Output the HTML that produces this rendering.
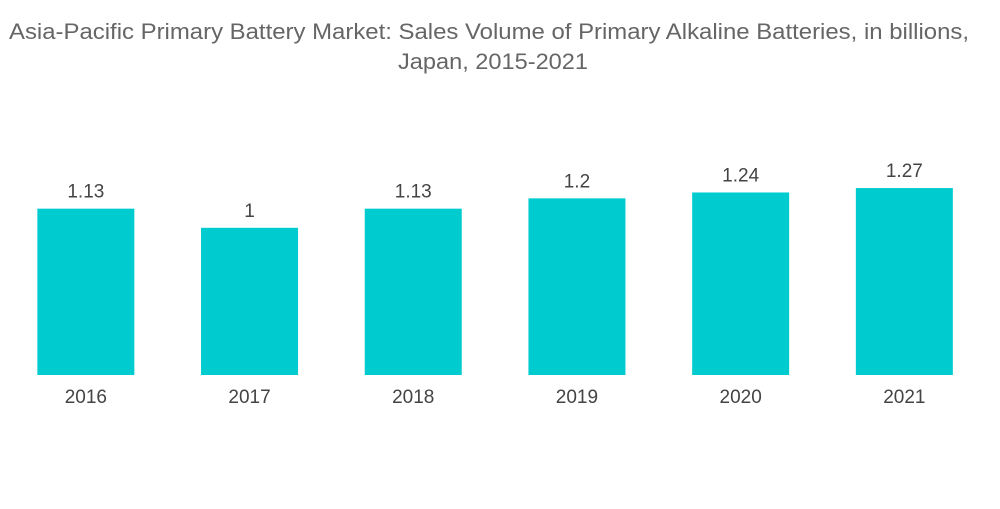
<!DOCTYPE html>
<html><head><meta charset="utf-8"><style>
body{margin:0;background:#fff;width:1000px;height:504px;overflow:hidden;font-family:"Liberation Sans",sans-serif}
</style></head><body>
<svg width="1000" height="504">
<text x="489" y="39" text-anchor="middle" font-size="22" fill="#666" textLength="960" lengthAdjust="spacingAndGlyphs">Asia-Pacific Primary Battery Market: Sales Volume of Primary Alkaline Batteries, in billions,</text>
<text x="493" y="69" text-anchor="middle" font-size="22" fill="#666" textLength="190" lengthAdjust="spacingAndGlyphs">Japan, 2015-2021</text>
<g id="bars"></g>
</svg>
<script>
const categories=["2016","2017","2018","2019","2020","2021"];
const values=[1.13,1,1.13,1.2,1.24,1.27];
const labels=["1.13","1","1.13","1.2","1.24","1.27"];
const x0=4,band=163.7,bw=97,base=375,k=147.2;
const xs=i=>x0+band*i+(band-bw)/2;
const ys=v=>base-v*k;
const g=document.getElementById('bars');
const ns="http://www.w3.org/2000/svg";
categories.forEach((c,i)=>{
 const r=document.createElementNS(ns,'rect');
 
 
 r.setAttribute('x',xs(i));r.setAttribute('y',ys(values[i]));
 r.setAttribute('width',bw);r.setAttribute('height',base-ys(values[i]));
 r.setAttribute('fill','#00cccf');g.appendChild(r);
 const t=document.createElementNS(ns,'text');
 
 
 t.setAttribute('x',xs(i)+bw/2);t.setAttribute('y',ys(values[i])-11);
 t.setAttribute('text-anchor','middle');t.setAttribute('font-size','19');t.setAttribute('fill','#444');
 t.textContent=labels[i];g.appendChild(t);
 const a=document.createElementNS(ns,'text');
 
 
 a.setAttribute('x',xs(i)+bw/2);a.setAttribute('y',403);
 a.setAttribute('text-anchor','middle');a.setAttribute('font-size','19');a.setAttribute('fill','#444');
 a.textContent=c;g.appendChild(a);
});
</script>
</body></html>
